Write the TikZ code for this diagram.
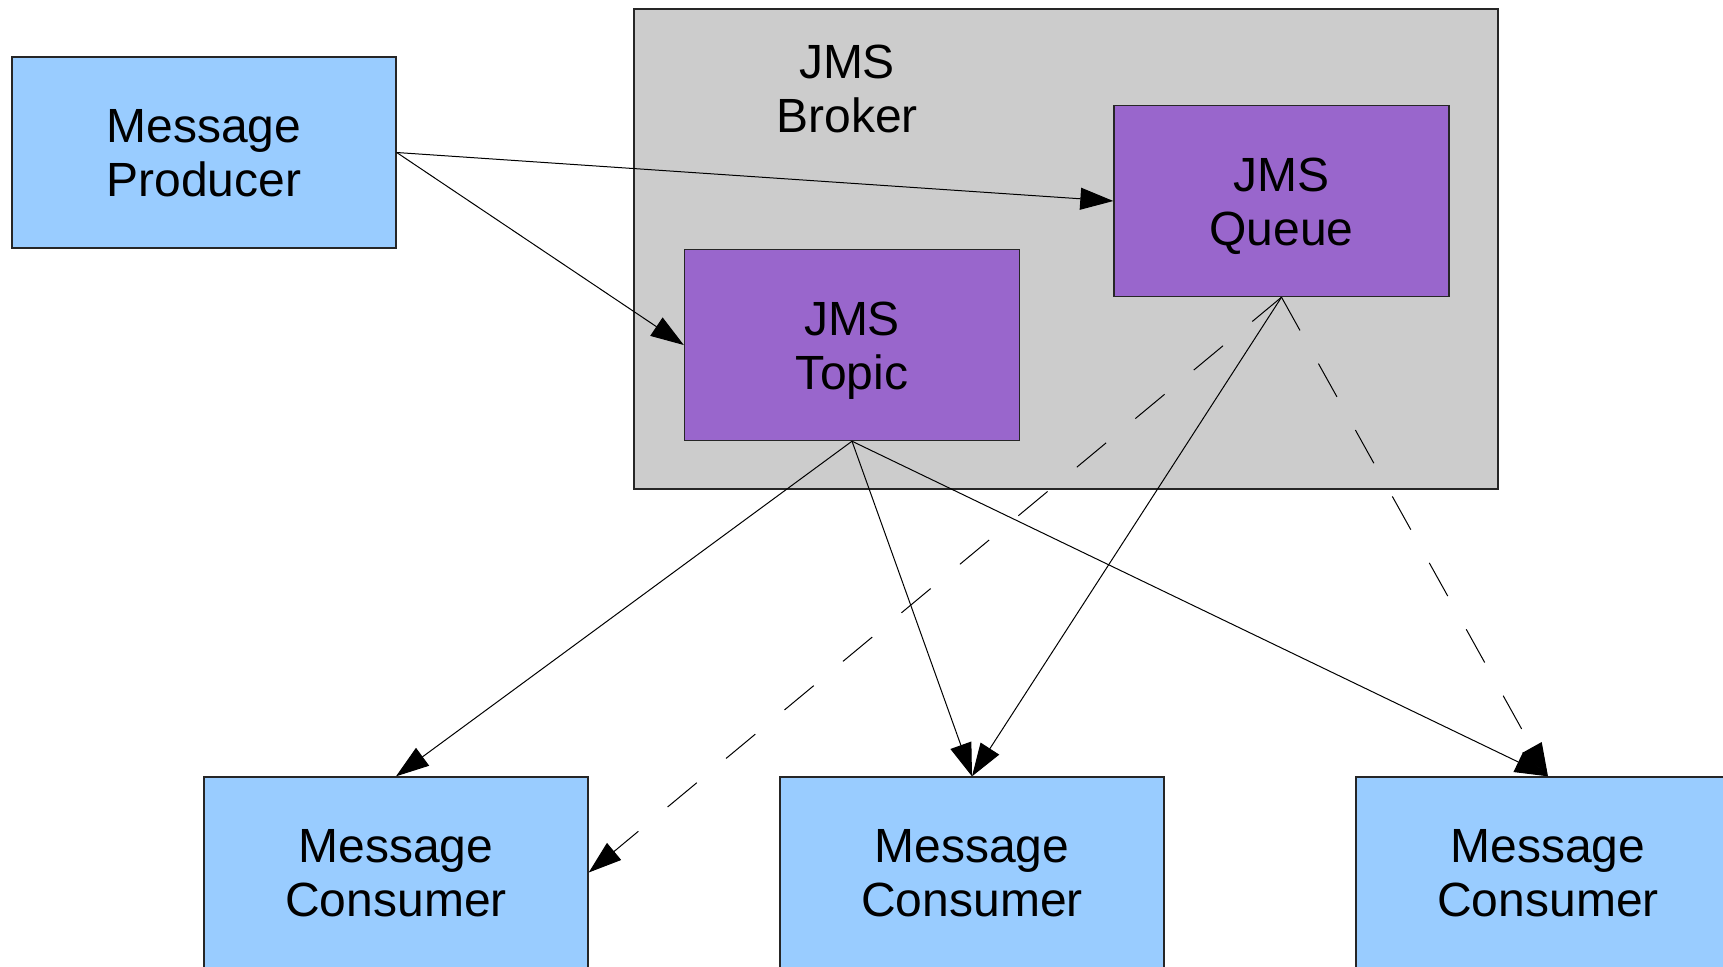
\documentclass[tikz,border=0pt]{standalone}
\usepackage{fontspec}
\setmainfont{Liberation Sans}
\usetikzlibrary{arrows.meta}
\definecolor{cblue}{HTML}{99CCFF}
\definecolor{cpurple}{HTML}{9966CC}
\definecolor{cgray}{HTML}{CCCCCC}
\begin{document}
\begin{tikzpicture}[x=0.5pt,y=-0.5pt,
  txt/.style={align=center,inner sep=0pt,font=\fontsize{24}{27}\selectfont,
    text height=44.2pt,text depth=0pt},
  box/.style={txt,draw=black!85,line width=0.7pt},
  bluebox/.style={box,fill=cblue,minimum width=192pt,minimum height=95.5pt},
  purplebox/.style={box,fill=cpurple,minimum width=167.5pt,minimum height=95.5pt},
  conn/.style={line width=0.5pt,-{Triangle[length=16.5pt,width=11pt]}},
  dconn/.style={conn,dash pattern=on 19pt off 19pt}]
\useasboundingbox (0,0) rectangle (1723,966);
\clip (0,0) rectangle (1723,966);
\node[draw=black!85,line width=0.7pt,fill=cgray,inner sep=0pt,minimum width=432pt,minimum height=240pt] (broker) at (1066,249) {};
\node[txt] (brokerlabel) at (847,88) {JMS\\Broker};
\node[bluebox] (prod) at (204,152.5) {Message\\Producer};
\node[purplebox] (queue) at (1281.5,201) {JMS\\Queue};
\node[purplebox] (topic) at (852,345) {JMS\\Topic};
\node[bluebox] (c1) at (396,872.5) {Message\\Consumer};
\node[bluebox] (c2) at (972,872.5) {Message\\Consumer};
\node[bluebox] (c3) at (1548,872.5) {Message\\Consumer};
\draw[conn] (prod.east) -- (queue.west);
\draw[conn] (prod.east) -- (topic.west);
\draw[conn] (topic.south) -- (c1.north);
\draw[conn] (topic.south) -- (c2.north);
\draw[conn] (topic.south) -- (c3.north);
\draw[conn] (queue.south) -- (c2.north);
\draw[dconn] (queue.south) -- (c1.east);
\draw[dconn] (queue.south) -- (c3.north);
\end{tikzpicture}
\end{document}
